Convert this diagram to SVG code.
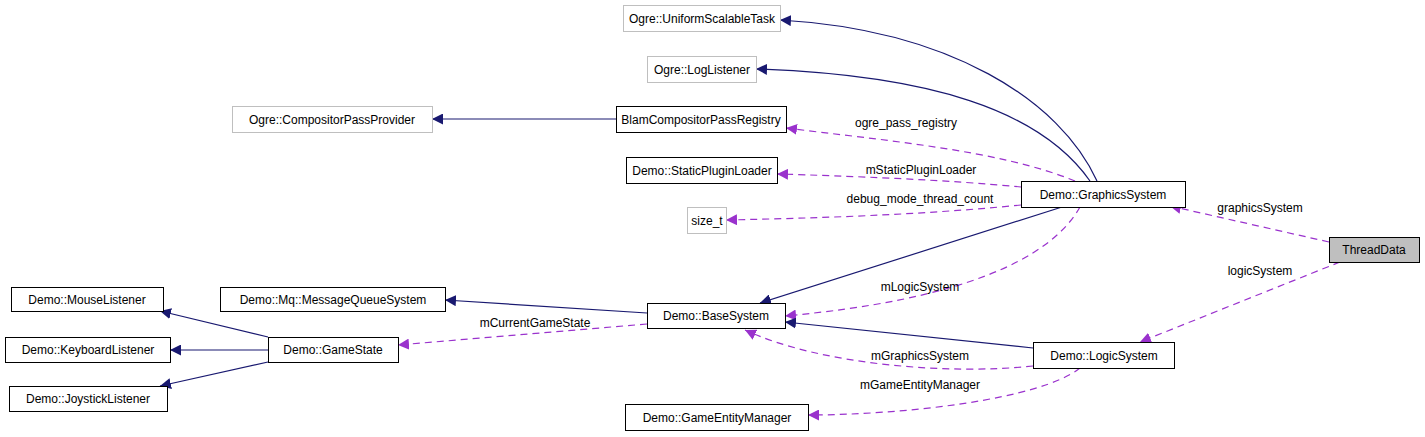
<svg xmlns="http://www.w3.org/2000/svg" width="1425" height="437" viewBox="0 0 1425 437">
<style>
text{font-family:"Liberation Sans",Arial,sans-serif;font-size:12px;fill:#000}
.n rect{fill:#fff;stroke:#000;stroke-width:1}
.g rect{fill:#fff;stroke:#bfbfbf;stroke-width:1}
.t rect{fill:#bfbfbf;stroke:#000;stroke-width:1}
.n text,.g text,.t text{text-anchor:middle}
.s{fill:none;stroke:#191970;stroke-width:1.2;marker-end:url(#an)}
.d{fill:none;stroke:#9a32cd;stroke-width:1.2;stroke-dasharray:7,5;marker-end:url(#ap)}
.l{text-anchor:middle}
</style>
<defs>
<marker id="an" viewBox="0 0 10 10" refX="10" refY="5" markerWidth="11" markerHeight="11" markerUnits="userSpaceOnUse" orient="auto"><path d="M0,0L10,5L0,10z" fill="#191970"/></marker>
<marker id="ap" viewBox="0 0 10 10" refX="10" refY="5" markerWidth="11" markerHeight="11" markerUnits="userSpaceOnUse" orient="auto"><path d="M0,0L10,5L0,10z" fill="#9a32cd"/></marker>
</defs>
<rect width="1425" height="437" fill="#fff"/>
<g id="edges">
<path class="s" d="M1097,181C1060,100 950,30 780,20"/>
<path class="s" d="M1090,181C1040,110 930,75 756,69"/>
<path class="s" d="M616,119L432,119"/>
<path class="d" d="M1075,181C1000,150 880,140 786,128"/>
<text class="l" x="906" y="127">ogre_pass_registry</text>
<path class="d" d="M1021,187C950,180 850,176 777,174"/>
<text class="l" x="921" y="174">mStaticPluginLoader</text>
<path class="d" d="M1021,205C920,215 820,218 726,220"/>
<text class="l" x="920" y="203">debug_mode_thread_count</text>
<path class="s" d="M1062,207L760,303"/>
<path class="d" d="M1080,207C1050,260 960,300 785,316"/>
<text class="l" x="920" y="291">mLogicSystem</text>
<path class="d" d="M1329,242L1170,206"/>
<text class="l" x="1260" y="212">graphicsSystem</text>
<path class="d" d="M1340,262L1140,342"/>
<text class="l" x="1260" y="275">logicSystem</text>
<path class="s" d="M1033,348L785,322"/>
<path class="d" d="M1033,366C950,375 820,365 745,330"/>
<text class="l" x="920" y="360">mGraphicsSystem</text>
<path class="d" d="M1080,368C1040,400 900,415 808,415"/>
<text class="l" x="920" y="389">mGameEntityManager</text>
<path class="s" d="M647,313L445,300"/>
<path class="d" d="M647,324L398,345"/>
<text class="l" x="535" y="327">mCurrentGameState</text>
<path class="s" d="M268,337L160,311"/>
<path class="s" d="M268,350L170,350"/>
<path class="s" d="M268,362L160,386"/>
</g>
<g id="uniform" class="g"><rect x="623.5" y="5.5" width="157" height="26"/><text x="702" y="23">Ogre::UniformScalableTask</text></g>
<g id="loglistener" class="g"><rect x="647.5" y="56.5" width="109" height="26"/><text x="702" y="74">Ogre::LogListener</text></g>
<g id="cpp" class="g"><rect x="232.5" y="106.5" width="200" height="26"/><text x="332" y="124">Ogre::CompositorPassProvider</text></g>
<g id="blam" class="n"><rect x="616.5" y="106.5" width="170" height="26"/><text x="701" y="124">BlamCompositorPassRegistry</text></g>
<g id="spl" class="n"><rect x="626.5" y="157.5" width="151" height="26"/><text x="702" y="175">Demo::StaticPluginLoader</text></g>
<g id="sizet" class="g"><rect x="687.5" y="207.5" width="39" height="26"/><text x="707" y="225">size_t</text></g>
<g id="graphics" class="n"><rect x="1021.5" y="181.5" width="164" height="26"/><text x="1103" y="199">Demo::GraphicsSystem</text></g>
<g id="threaddata" class="t"><rect x="1329.5" y="237.5" width="90" height="25"/><text x="1374" y="254">ThreadData</text></g>
<g id="mouse" class="n"><rect x="11.5" y="287.5" width="152" height="24"/><text x="87" y="304">Demo::MouseListener</text></g>
<g id="keyboard" class="n"><rect x="5.5" y="337.5" width="165" height="25"/><text x="88" y="354">Demo::KeyboardListener</text></g>
<g id="joystick" class="n"><rect x="9.5" y="386.5" width="158" height="25"/><text x="88" y="403">Demo::JoystickListener</text></g>
<g id="gamestate" class="n"><rect x="268.5" y="337.5" width="130" height="25"/><text x="333" y="354">Demo::GameState</text></g>
<g id="mqs" class="n"><rect x="220.5" y="287.5" width="225" height="24"/><text x="333" y="304">Demo::Mq::MessageQueueSystem</text></g>
<g id="base" class="n"><rect x="647.5" y="303.5" width="138" height="25"/><text x="716" y="320">Demo::BaseSystem</text></g>
<g id="logic" class="n"><rect x="1033.5" y="342.5" width="141" height="26"/><text x="1104" y="360">Demo::LogicSystem</text></g>
<g id="gem" class="n"><rect x="625.5" y="404.5" width="183" height="26"/><text x="717" y="422">Demo::GameEntityManager</text></g>
</svg>
